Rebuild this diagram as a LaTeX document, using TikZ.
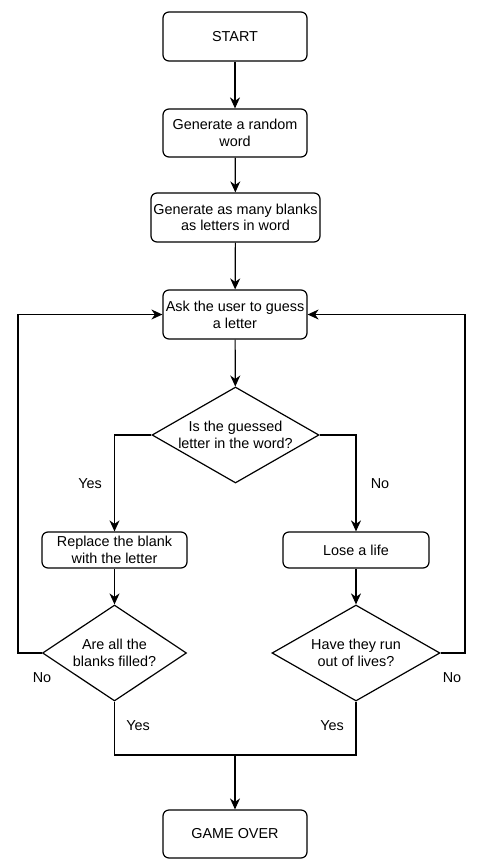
\documentclass[tikz,border=0pt]{standalone}
\usepackage{fontspec}
\setmainfont{Liberation Sans}
\usetikzlibrary{shapes.geometric,arrows.meta}
\begin{document}
\begin{tikzpicture}[x=1pt,y=-1pt,
  font=\fontsize{14.4}{16.7}\selectfont,
  line width=1.2pt,
  box/.style={draw, rounded corners=6pt, align=center, inner sep=0pt},
  dia/.style={draw, shape=diamond, inner sep=0pt},
  lbl/.style={align=center, inner sep=0pt},
  arr/.style={-{Stealth[length=11pt,width=10pt,inset=3.5pt]}}]
\useasboundingbox (0,0) rectangle (480,867);
\node[box, minimum width=144pt, minimum height=49pt] (start) at (235,36.5) {START};
\node[box, minimum width=144pt, minimum height=48pt] (gen) at (235,133) {Generate a random\\word};
\node[box, minimum width=169pt, minimum height=49pt] (blanks) at (235.5,217.5) {Generate as many blanks\\as letters in word};
\node[box, minimum width=144pt, minimum height=49pt] (ask) at (235,314.5) {Ask the user to guess\\a letter};
\node[dia, minimum width=167pt, minimum height=96pt] (d1) at (235.5,435) {};
\node[lbl] (d1t) at (235.5,435) {Is the guessed\\letter in the word?};
\node[box, minimum width=145pt, minimum height=36pt] (rep) at (114.5,550) {Replace the blank\\with the letter};
\node[box, minimum width=146pt, minimum height=36pt] (lose) at (356,550) {Lose a life};
\node[dia, minimum width=144pt, minimum height=96pt] (d2) at (114.5,653) {};
\node[lbl] (d2t) at (114.5,653) {Are all the\\blanks filled?};
\node[dia, minimum width=168pt, minimum height=96pt] (d3) at (356,653) {};
\node[lbl] (d3t) at (356,653) {Have they run\\out of lives?};
\node[box, minimum width=144pt, minimum height=48pt] (go) at (235,834) {GAME OVER};
\coordinate (lloop) at (18,653);
\coordinate (rloop) at (465,653);
\coordinate (merge) at (235,755);
\draw[arr] (start) -- (gen);
\draw[arr] (gen) -- (blanks);
\draw[arr] (blanks) -- (ask);
\draw[arr] (ask) -- (d1);
\draw[arr] (d1.west) -| (rep.north);
\draw[arr] (d1.east) -| (lose.north);
\draw[arr] (rep) -- (d2);
\draw[arr] (lose) -- (d3);
\draw[arr] (d2.west) -- (lloop) |- (ask.west);
\draw[arr] (d3.east) -- (rloop) |- (ask.east);
\draw (d2.south) |- (merge);
\draw (d3.south) |- (merge);
\draw[arr] (merge) -- (go);
\node[lbl] (yes1) at (90,484) {Yes};
\node[lbl] (no1) at (380,484) {No};
\node[lbl] (no2) at (42,678) {No};
\node[lbl] (no3) at (452,678) {No};
\node[lbl] (yes2) at (138,726) {Yes};
\node[lbl] (yes3) at (332,726) {Yes};
\end{tikzpicture}
\end{document}
